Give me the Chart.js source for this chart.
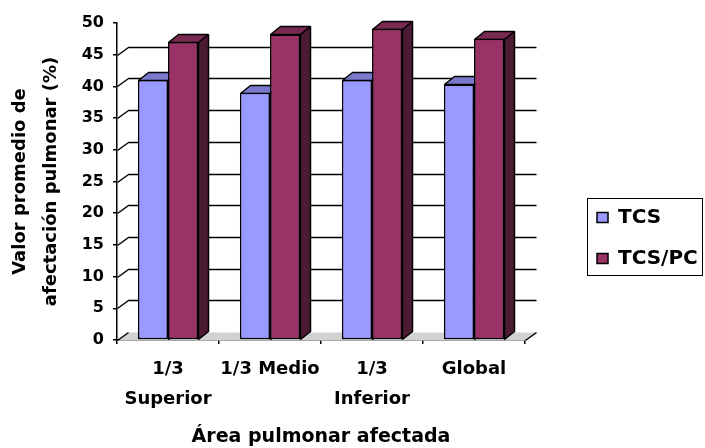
<!DOCTYPE html>
<html>
<head>
<meta charset="utf-8">
<script src="https://cdn.jsdelivr.net/npm/chart.js@4/dist/chart.umd.min.js"></script>
<style>
  html, body { margin: 0; padding: 0; background: #fff; }
  #wrap { width: 705px; height: 448px; }
  canvas { display: block; }
</style>
</head>
<body>
<div id="wrap"><canvas id="c" width="705" height="448"></canvas></div>
<script>
// Average lung involvement by lung region
const categories = [['1/3', 'Superior'], '1/3 Medio', ['1/3', 'Inferior'], 'Global'];
const seriesNames = ['TCS', 'TCS/PC'];
const tcsValues = [41.0, 39.0, 41.0, 40.3];
const tcsPcValues = [47.0, 48.2, 49.1, 47.5];
const yTickValues = [0, 5, 10, 15, 20, 25, 30, 35, 40, 45, 50];
const yTitle = ['Valor promedio de', 'afectación pulmonar (%)'];
const xTitle = 'Área pulmonar afectada';

const FONT = "'DejaVu Sans', 'Liberation Sans', sans-serif";

// Face colours for the extruded columns: front, top, side
const faces = [
  { front: '#9999ff', top: '#7a7acc', side: '#5c5c99' },
  { front: '#993366', top: '#7a2952', side: '#4d1a33' }
];
const BAR_DX = 10, BAR_DY = -8;   // column depth offset
const WALL_DX = 11, WALL_DY = -8; // back wall offset
const LINE_W = 1.5;

const px = v => Math.round(v) + 0.5;

const depthPlugin = {
  id: 'depth',
  beforeDatasetsDraw(chart) {
    const { ctx, chartArea: a, scales: { y } } = chart;
    ctx.save();
    const yb = px(a.bottom);
    // floor
    ctx.fillStyle = '#d2d2d2';
    ctx.beginPath();
    ctx.moveTo(px(a.left), yb);
    ctx.lineTo(px(a.right), yb);
    ctx.lineTo(px(a.right) + WALL_DX, yb + WALL_DY);
    ctx.lineTo(px(a.left) + WALL_DX, yb + WALL_DY);
    ctx.closePath();
    ctx.fill();
    // back wall gridlines and their connectors to the value axis
    ctx.strokeStyle = '#000';
    ctx.lineWidth = LINE_W;
    ctx.lineJoin = 'bevel';
    y.ticks.forEach(t => {
      if (t.value >= y.max) return;
      const py = px(y.getPixelForValue(t.value));
      ctx.beginPath();
      ctx.moveTo(px(a.left), py);
      ctx.lineTo(px(a.left) + WALL_DX, py + WALL_DY);
      if (t.value > y.min) ctx.lineTo(px(a.right) + WALL_DX, py + WALL_DY);
      ctx.stroke();
    });
    // right edge of the floor
    ctx.beginPath();
    ctx.moveTo(px(a.right), yb);
    ctx.lineTo(px(a.right) + WALL_DX, yb + WALL_DY);
    ctx.stroke();
    ctx.restore();
  },
  afterDatasetsDraw(chart) {
    // extrude every column: top and side faces, then the front face again,
    // series by series so later series sit in front of earlier ones
    const { ctx } = chart;
    chart.data.datasets.forEach((ds, i) => {
      const meta = chart.getDatasetMeta(i);
      if (!meta.visible) return;
      const f = faces[i];
      meta.data.forEach(bar => {
        const { x, y, base, width } = bar.getProps(['x', 'y', 'base', 'width'], true);
        const l = px(x - width / 2), r = px(x + width / 2), t = px(y), b = px(base);
        ctx.save();
        ctx.strokeStyle = '#000';
        ctx.lineWidth = LINE_W;
        ctx.lineJoin = 'bevel';
        ctx.fillStyle = f.top;
        ctx.beginPath();
        ctx.moveTo(l, t);
        ctx.lineTo(l + BAR_DX, t + BAR_DY);
        ctx.lineTo(r + BAR_DX, t + BAR_DY);
        ctx.lineTo(r, t);
        ctx.closePath();
        ctx.fill();
        ctx.stroke();
        ctx.fillStyle = f.side;
        ctx.beginPath();
        ctx.moveTo(r, t);
        ctx.lineTo(r + BAR_DX, t + BAR_DY);
        ctx.lineTo(r + BAR_DX, b + BAR_DY);
        ctx.lineTo(r, b);
        ctx.closePath();
        ctx.fill();
        ctx.stroke();
        ctx.restore();
        bar.draw(ctx);
      });
    });
  },
  afterLayout(chart) {
    // place the legend items inside the framed box right of the plot
    const lg = chart.legend;
    if (!lg) return;
    lg.left = 576; lg.right = 703; lg.top = 186; lg.bottom = 290;
    lg.width = lg.right - lg.left; lg.height = lg.bottom - lg.top;
  },
  afterDraw(chart) {
    const { ctx } = chart;
    ctx.save();
    ctx.strokeStyle = '#000';
    ctx.lineWidth = 1;
    ctx.strokeRect(587.5, 198.5, 115, 77);
    ctx.restore();
  }
};

new Chart(document.getElementById('c'), {
  type: 'bar',
  data: {
    labels: categories,
    datasets: [
      { label: seriesNames[0], data: tcsValues, backgroundColor: faces[0].front },
      { label: seriesNames[1], data: tcsPcValues, backgroundColor: faces[1].front }
    ]
  },
  options: {
    responsive: false,
    animation: false,
    devicePixelRatio: 1,
    layout: { padding: { left: 0, top: 23, right: 180, bottom: 0 } },
    datasets: {
      bar: {
        borderColor: '#000',
        borderWidth: LINE_W,
        borderSkipped: false,
        categoryPercentage: 0.59,
        barPercentage: 1.0
      }
    },
    scales: {
      x: {
        grid: { display: true, drawOnChartArea: false, drawTicks: true, tickLength: 4, color: '#000', lineWidth: LINE_W, offset: true },
        border: { display: true, color: '#000', width: LINE_W },
        ticks: {
          color: '#000', autoSkip: false, maxRotation: 0, minRotation: 0, padding: 10,
          font: { family: FONT, size: 18, weight: 'bold', lineHeight: '30px' }
        },
        title: {
          display: true, text: xTitle, color: '#000',
          font: { family: FONT, size: 19, weight: 'bold', lineHeight: '20px' },
          padding: { top: 0, bottom: 1 }
        },
        afterFit(scale) { scale.height = 108; }
      },
      y: {
        min: 0, max: 50,
        afterBuildTicks(scale) { scale.ticks = yTickValues.map(v => ({ value: v })); },
        grid: { display: true, drawOnChartArea: false, drawTicks: true, tickLength: 4, color: '#000', lineWidth: LINE_W },
        border: { display: true, color: '#000', width: LINE_W },
        ticks: {
          color: '#000', padding: 9,
          font: { family: FONT, size: 16, weight: 'bold' }
        },
        title: {
          display: true, text: yTitle, color: '#000',
          font: { family: FONT, size: 18, weight: 'bold', lineHeight: '31px' },
          padding: { top: 5, bottom: 0 }
        },
        afterFit(scale) { scale.width = 117; }
      }
    },
    plugins: {
      legend: {
        display: true,
        position: 'chartArea',
        align: 'center',
        labels: {
          color: '#000',
          boxWidth: 11,
          boxHeight: 10,
          padding: 21,
          font: { family: FONT, size: 20, weight: 'bold' }
        }
      },
      tooltip: { enabled: false },
      title: { display: false }
    }
  },
  plugins: [depthPlugin]
});
</script>
</body>
</html>
